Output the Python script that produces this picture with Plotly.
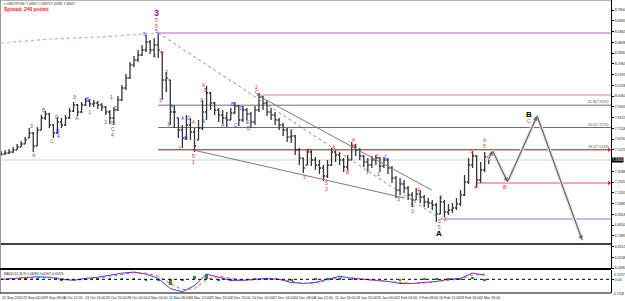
import plotly.graph_objects as go

# ---------------- data ----------------
# daily samples of the H4 chart; x = H4 bar number since 15 Sep 2020
bar_index = list(range(0, 727, 6))

close = [7.484, 7.493, 7.502, 7.520, 7.547, 7.574, 7.610, 7.673, 7.556, 7.700,
         7.808, 7.844, 7.745, 7.673, 7.772, 7.745, 7.808, 7.871, 7.925, 7.862,
         7.925, 7.961, 7.934, 7.943, 7.925, 7.907, 7.862, 7.808, 7.880, 7.970,
         8.078, 8.168, 8.285, 8.330, 8.375, 8.420, 8.492, 8.420, 8.465, 8.420,
         8.150, 8.168, 7.862, 7.862, 7.700, 7.628, 7.745, 7.682, 7.556, 7.718,
         7.862, 8.033, 7.943, 7.880, 7.835, 7.808, 7.790, 7.853, 7.916, 7.790,
         7.880, 7.844, 7.772, 7.880, 7.997, 7.943, 7.862, 7.835, 7.790, 7.745,
         7.700, 7.637, 7.646, 7.520, 7.448, 7.358, 7.502, 7.430, 7.385, 7.358,
         7.286, 7.385, 7.502, 7.475, 7.430, 7.367, 7.430, 7.556, 7.520, 7.466,
         7.412, 7.385, 7.430, 7.448, 7.376, 7.430, 7.358, 7.268, 7.160, 7.214,
         7.178, 7.115, 7.070, 7.124, 7.097, 7.052, 7.043, 7.025, 6.944, 7.052,
         6.962, 6.980, 6.998, 7.034, 7.115, 7.232, 7.385, 7.466, 7.250, 7.340,
         7.457, 7.430]

high = [7.511, 7.520, 7.529, 7.547, 7.574, 7.601, 7.637, 7.718, 7.682, 7.727,
        7.835, 7.871, 7.853, 7.754, 7.817, 7.808, 7.835, 7.898, 7.952, 7.934,
        7.952, 7.988, 7.979, 7.970, 7.961, 7.943, 7.916, 7.880, 7.907, 8.006,
        8.105, 8.204, 8.312, 8.366, 8.420, 8.465, 8.555, 8.510, 8.528, 8.573,
        8.402, 8.222, 8.150, 7.925, 7.808, 7.745, 7.835, 7.808, 7.718, 7.790,
        7.970, 8.096, 8.042, 7.952, 7.898, 7.880, 7.862, 7.898, 7.952, 7.925,
        7.916, 7.898, 7.862, 7.916, 8.033, 8.006, 7.970, 7.898, 7.862, 7.808,
        7.763, 7.718, 7.700, 7.655, 7.538, 7.448, 7.529, 7.520, 7.457, 7.430,
        7.385, 7.430, 7.538, 7.520, 7.502, 7.448, 7.475, 7.592, 7.574, 7.538,
        7.475, 7.448, 7.466, 7.475, 7.457, 7.457, 7.448, 7.376, 7.286, 7.268,
        7.250, 7.196, 7.142, 7.178, 7.160, 7.115, 7.088, 7.070, 7.043, 7.106,
        7.070, 7.034, 7.043, 7.088, 7.160, 7.295, 7.448, 7.511, 7.475, 7.412,
        7.502, 7.475]

low = [7.466, 7.475, 7.484, 7.493, 7.520, 7.547, 7.574, 7.628, 7.502, 7.556,
       7.700, 7.790, 7.718, 7.628, 7.664, 7.718, 7.736, 7.799, 7.862, 7.826,
       7.853, 7.916, 7.907, 7.907, 7.889, 7.871, 7.835, 7.754, 7.745, 7.871,
       7.961, 8.060, 8.159, 8.267, 8.312, 8.366, 8.402, 8.384, 8.357, 8.348,
       7.970, 8.042, 7.745, 7.718, 7.628, 7.538, 7.610, 7.610, 7.502, 7.610,
       7.700, 7.790, 7.880, 7.835, 7.772, 7.754, 7.727, 7.790, 7.844, 7.736,
       7.772, 7.790, 7.718, 7.745, 7.862, 7.880, 7.826, 7.790, 7.745, 7.700,
       7.646, 7.592, 7.583, 7.475, 7.385, 7.313, 7.385, 7.376, 7.340, 7.304,
       7.241, 7.268, 7.376, 7.412, 7.385, 7.322, 7.340, 7.430, 7.466, 7.430,
       7.367, 7.322, 7.358, 7.385, 7.322, 7.358, 7.304, 7.223, 7.088, 7.115,
       7.133, 7.070, 7.007, 7.070, 7.043, 7.007, 6.998, 6.980, 6.872, 6.944,
       6.917, 6.935, 6.953, 6.980, 7.016, 7.106, 7.214, 7.358, 7.178, 7.223,
       7.322, 7.394]

# MACD(12,26,9) sampled every 18 H4 bars
macd_bars = list(range(0, 721, 18))
macd_main = [0.0, 0.0133, 0.0266, 0.0333, 0.0266, 0.0, -0.0133, 0.0133, 0.0266, 0.0532,
             0.0798, 0.0931, 0.0665, 0.0133, -0.1197, -0.1596, -0.0798, 0.0665, 0.0266, -0.0133,
             -0.0133, 0.0, 0.0133, 0.0, -0.0399, -0.0532, -0.0399, 0.0, 0.0399, 0.0133,
             0.0, -0.0133, -0.0266, -0.0532, -0.0532, -0.0399, -0.0266, 0.0, 0.0133, 0.0798,
             0.0532]
macd_signal = [0.0, 0.0067, 0.020, 0.0266, 0.0266, 0.0133, -0.0133, 0.0, 0.0133, 0.0399,
               0.0665, 0.0865, 0.0798, 0.0399, -0.0532, -0.133, -0.1197, 0.0, 0.0399, 0.0133,
               -0.0133, -0.0067, 0.0067, 0.0067, -0.0266, -0.0532, -0.0466, -0.0133, 0.0266, 0.020,
               0.0, -0.0133, -0.0266, -0.0399, -0.0532, -0.0466, -0.0333, -0.0133, 0.0067, 0.0532,
               0.0665]

# right-hand price scale (the label under the current-price box is hidden, as in MT4)
price_ticks = [8.7800, 8.6833, 8.5865, 8.4898, 8.3930, 8.2963, 8.1995, 8.1028, 8.0060,
               7.9093, 7.8125, 7.7158, 7.6190, 7.5223, 7.3288, 7.2320, 7.1353,
               7.0385, 6.9418, 6.8450, 6.7483, 6.6515, 6.5548, 6.4580]
macd_max_text = "0.1197"
macd_min_text = "-0.1758"

date_labels = ["15 Sep 2020", "22 Sep 04:00", "29 Sep 08:00", "6 Oct 12:00", "13 Oct 16:00",
               "20 Oct 20:00", "28 Oct 00:00", "4 Nov 04:00", "11 Nov 08:00", "18 Nov 12:00",
               "25 Nov 16:00", "2 Dec 20:00", "10 Dec 00:00", "17 Dec 04:00", "24 Dec 08:00",
               "4 Jan 12:00", "11 Jan 16:00", "18 Jan 20:00", "26 Jan 00:00", "2 Feb 04:00",
               "9 Feb 08:00", "16 Feb 12:00", "23 Feb 16:00", "2 Mar 20:00"]
date_label_bars = [0, 31, 62, 93, 124, 155, 186, 217, 248, 279, 310, 341, 372, 403, 434,
                   465, 496, 527, 558, 589, 620, 651, 682, 713]

fib_ratios = [0.382, 0.500, 0.618]

# other horizontal levels: (price, start bar or None for full width, color, width)
level_lines = [
    (8.015, 381, "#f2a8a8", 1.5),
    (7.223, 707, "#ff4a4a", 1.0),
    (6.899, 653, "#a9a9e6", 1.5),
    (6.674, None, "#000000", 1.5),
]
# small red price markers on the scale
marker_prices = [7.522, 7.223]

pink_curve_bars = [0, 73, 147, 211, 234]
pink_curve_prices = [8.483, 8.519, 8.537, 8.564, 8.573]

# trend lines: (bar0, price0, bar1, price1, dash)
trend_lines = [
    (234, 8.573, 650, 6.917, "dot"),
    (381, 8.015, 641, 7.160, "solid"),
    (286, 7.520, 601, 7.088, "solid"),
]

proj_bars = [725, 732, 754, 798, 865]
proj_prices = [7.430, 7.511, 7.232, 7.826, 6.710]

B, R, G, P, K = "#3a3aff", "#ff2a2a", "#1a9a1a", "#8a1a8a", "#000000"
wave_labels = [
    (45, 7.736, "3", B), (49, 7.475, "A", G), (64, 7.880, "B", G), (76, 7.601, "C", G),
    (83, 7.817, "D", G), (85, 7.691, "B", B), (86, 7.646, "4", B), (110, 7.997, "3", B),
    (113, 7.808, "A", B), (129, 7.979, "B", B), (131, 7.862, "1", G), (156, 7.770, "3", G),
    (166, 7.760, "5", G), (166, 7.706, "C", B), (166, 7.652, "4", R), (165, 7.997, "1", B),
    (171, 7.898, "2", B), (214, 8.564, "5", B), (229, 8.366, "4", B), (231, 8.690, "5", R),
    (231, 8.636, "5", R), (231, 8.591, "5", B), (241, 8.393, "2", R), (238, 7.970, "1", R),
    (246, 8.069, "1", B), (247, 8.222, "2", B), (254, 7.916, "4", B), (250, 7.754, "3", B),
    (266, 7.538, "3", R), (271, 7.808, "A", B), (275, 7.628, "D", B), (280, 7.808, "C", B),
    (287, 7.772, "4", R), (286, 7.466, "5", R), (286, 7.412, "1", R), (299, 7.970, "3", B),
    (302, 7.781, "4", B), (302, 8.105, "A", R), (304, 8.060, "5", B), (330, 7.745, "A", B),
    (345, 7.934, "B", B), (350, 7.745, "C", B), (359, 7.898, "D", B), (368, 7.772, "E", B),
    (369, 7.718, "B", R), (381, 8.087, "2", R), (381, 8.042, "C", R), (433, 7.691, "2", R),
    (452, 7.277, "3", R), (458, 7.520, "4", R), (484, 7.223, "5", R), (484, 7.169, "3", R),
    (496, 7.547, "A", R), (516, 7.322, "B", R), (525, 7.610, "4", R), (525, 7.556, "C", R),
    (545, 7.322, "1", R), (561, 7.466, "2", R), (562, 7.304, "1", B), (573, 7.457, "2", B),
    (591, 7.079, "3", B), (594, 7.223, "4", B), (612, 7.025, "5", B), (612, 6.971, "3", R),
    (622, 7.160, "4", R), (652, 6.881, "5", R), (652, 6.827, "5", R), (656, 7.097, "1", R),
    (662, 6.899, "2", R), (701, 7.511, "3", R), (707, 7.187, "4", R), (720, 7.610, "A", R),
    (720, 7.556, "5", R), (750, 7.187, "B", R), (786, 7.781, "C", R),
]
big_labels = [(231, 8.753, "3", P, 9), (652, 6.773, "A", K, 8), (786, 7.844, "B", K, 8)]

# ---------------- layout constants ----------------
W, H = 625, 301
X_RANGE = [-1.5, 908]
Y_RANGE = [6.449, 8.870]
M_RANGE = [-0.1758, 0.1200]
XD = 611 / W
MAIN_DOM = [1 - 269 / H, 1.0]
IND_DOM = [1 - 293 / H, 1 - 270 / H]
FONT = "Liberation Sans, Arial, sans-serif"
SMALL = 3.6

# ---------------- derived ----------------
opens = [close[0]]
for i in range(1, len(close)):
    opens.append(min(max(close[i - 1], low[i]), high[i]))

fib_high = max(high)
fib_low = min(low)
fib_start = bar_index[high.index(fib_high)]
osma = [m - s for m, s in zip(macd_main, macd_signal)]

fig = go.Figure()

fig.add_trace(go.Scatter(x=pink_curve_bars, y=pink_curve_prices, mode="lines",
                         line=dict(color="#d79bd7", width=1.2, dash="dot"),
                         xaxis="x", yaxis="y", hoverinfo="skip"))

shapes = []
def hline(y, x0, color, width, dash="solid", x1=X_RANGE[1]):
    shapes.append(dict(type="line", xref="x", yref="y", x0=x0, x1=x1, y0=y, y1=y,
                       line=dict(color=color, width=width, dash=dash), layer="below"))

hline(fib_high, fib_start, "#e3aee3", 1.8)
for lv, x0, col, wd in level_lines:
    hline(lv, X_RANGE[0] if x0 is None else x0, col, wd)
hline(close[-1], X_RANGE[0], "#cfcfcf", 1.0)

fib_colors = ["#8b1a1a", "#6e6e6e", "#6e6e6e"]
fib_levels = [fib_low + r * (fib_high - fib_low) for r in fib_ratios]
for r, lv, col in zip(fib_ratios, fib_levels, fib_colors):
    hline(lv, fib_start, col, 1.0)

for b0, p0, b1, p1, dash in trend_lines:
    shapes.append(dict(type="line", xref="x", yref="y", x0=b0, y0=p0, x1=b1, y1=p1,
                       line=dict(color="#7a7a7a" if dash == "solid" else "#8a8a8a",
                                 width=1, dash=dash)))

fig.add_trace(go.Ohlc(x=bar_index, open=opens, high=high, low=low, close=close,
                      increasing=dict(line=dict(color="#353535", width=1.3)),
                      decreasing=dict(line=dict(color="#353535", width=1.3)),
                      tickwidth=0.4, xaxis="x", yaxis="y", hoverinfo="skip"))

fig.add_trace(go.Scatter(x=proj_bars, y=proj_prices, mode="lines",
                         line=dict(color="#e2e2e2", width=3.5), xaxis="x", yaxis="y",
                         hoverinfo="skip"))
fig.add_trace(go.Scatter(x=proj_bars, y=proj_prices, mode="lines",
                         line=dict(color="#8c8c8c", width=1), xaxis="x", yaxis="y",
                         hoverinfo="skip"))

fig.add_trace(go.Scatter(x=[X_RANGE[1] - 3] * len(marker_prices), y=marker_prices,
                         mode="markers", marker=dict(symbol="triangle-right", size=4,
                                                     color="#ff2020"),
                         xaxis="x", yaxis="y", hoverinfo="skip", cliponaxis=False))

fig.add_trace(go.Bar(x=macd_bars, y=osma, marker=dict(color="#14a014", line=dict(width=0)),
                     width=4, xaxis="x2", yaxis="y2", hoverinfo="skip"))
fig.add_trace(go.Scatter(x=macd_bars, y=macd_main, mode="lines",
                         line=dict(color="#3a3aff", width=1), xaxis="x2", yaxis="y2",
                         hoverinfo="skip"))
fig.add_trace(go.Scatter(x=macd_bars, y=macd_signal, mode="lines",
                         line=dict(color="#ff4040", width=1, dash="dot"), xaxis="x2",
                         yaxis="y2", hoverinfo="skip"))
shapes.append(dict(type="line", xref="x2", yref="y2", x0=X_RANGE[0], x1=X_RANGE[1], y0=0, y1=0,
                   line=dict(color="#000000", width=1, dash="dot")))

shapes += [
    dict(type="line", xref="paper", yref="paper", x0=0, x1=XD, y0=1, y1=1,
         line=dict(color="#9a9a9a", width=1.5)),
    dict(type="line", xref="paper", yref="paper", x0=0.0008, x1=0.0008, y0=IND_DOM[0], y1=1,
         line=dict(color="#9a9a9a", width=1)),
    dict(type="line", xref="paper", yref="paper", x0=0, x1=XD, y0=MAIN_DOM[0], y1=MAIN_DOM[0],
         line=dict(color="#000000", width=2)),
    dict(type="line", xref="paper", yref="paper", x0=0, x1=XD, y0=IND_DOM[0], y1=IND_DOM[0],
         line=dict(color="#000000", width=1)),
]

ann = []
for i in range(1, len(proj_bars)):
    ann.append(dict(x=proj_bars[i], y=proj_prices[i], ax=proj_bars[i - 1], ay=proj_prices[i - 1],
                    xref="x", yref="y", axref="x", ayref="y", text="", showarrow=True,
                    arrowhead=2, arrowsize=0.9, arrowwidth=1, arrowcolor="#666666",
                    standoff=0))

for bx, py, t, c in wave_labels:
    ann.append(dict(x=bx, y=py, xref="x", yref="y", text=t, showarrow=False, borderpad=0,
                    font=dict(family=FONT, size=5, color=c)))
for bx, py, t, c, s in big_labels:
    ann.append(dict(x=bx, y=py, xref="x", yref="y", text="<b>" + t + "</b>", showarrow=False,
                    borderpad=0, font=dict(family=FONT, size=s, color=c)))

for r, lv in zip(fib_ratios, fib_levels):
    ann.append(dict(x=609 / W, y=lv, xref="paper", yref="y", xanchor="right", yanchor="bottom",
                    text="%.1f(%.4f)" % (r * 100, lv), showarrow=False, borderpad=0,
                    font=dict(family=FONT, size=SMALL, color="#555555")))

for t, bx in zip(date_labels, date_label_bars):
    ann.append(dict(x=bx, y=0, xref="x", yref="paper", xanchor="left", yanchor="bottom",
                    text=t, showarrow=False, borderpad=0,
                    font=dict(family=FONT, size=SMALL, color="#222222")))

ann.append(dict(x=XD, y=close[-1], xref="paper", yref="y", xanchor="left", yanchor="middle",
                text="%.4f" % close[-1], showarrow=False, bgcolor="#000000", borderpad=0,
                font=dict(family=FONT, size=SMALL, color="#ffffff")))
ann.append(dict(x=XD + 0.003, y=IND_DOM[1] - 1.5 / H, xref="paper", yref="paper",
                xanchor="left", yanchor="top", text=macd_max_text, showarrow=False, borderpad=0,
                font=dict(family=FONT, size=SMALL, color="#222222")))
ann.append(dict(x=XD + 0.002, y=IND_DOM[0] - 0.5 / H, xref="paper", yref="paper",
                xanchor="left", yanchor="middle", text=macd_min_text, showarrow=False,
                borderpad=0, font=dict(family=FONT, size=3.2, color="#222222")))
ann.append(dict(x=0.004, y=1 - 1 / H, xref="paper", yref="paper", xanchor="left", yanchor="top",
                text="▾ USDTRY,H4  7.43317 7.43873 7.42981 7.43057", showarrow=False,
                borderpad=0, font=dict(family=FONT, size=3.2, color="#222222")))
ann.append(dict(x=0.004, y=1 - 4.5 / H, xref="paper", yref="paper", xanchor="left",
                yanchor="top", text="<b>Spread: 240 points</b>", showarrow=False, borderpad=0,
                font=dict(family=FONT, size=5, color="#ff2020")))
ann.append(dict(x=0.004, y=IND_DOM[1] - 0.5 / H, xref="paper", yref="paper", xanchor="left",
                yanchor="top", text="MACD(12,26,9) 0.04683 0.04307 0.00376", showarrow=False,
                borderpad=0, font=dict(family=FONT, size=3.2, color="#222222")))

fig.update_layout(
    width=W, height=H, margin=dict(l=0, r=0, t=0, b=0),
    paper_bgcolor="#ffffff", plot_bgcolor="#ffffff", showlegend=False,
    font=dict(family=FONT, size=SMALL, color="#222222"),
    xaxis=dict(domain=[0, XD], range=X_RANGE, anchor="y", showticklabels=False,
               showgrid=False, zeroline=False, showline=False, rangeslider=dict(visible=False),
               fixedrange=True),
    xaxis2=dict(domain=[0, XD], range=X_RANGE, anchor="y2", matches="x", showticklabels=False,
                showgrid=False, zeroline=False, showline=False),
    yaxis=dict(domain=MAIN_DOM, range=Y_RANGE, anchor="x", side="right",
               tickvals=price_ticks, ticktext=["%.4f" % v for v in price_ticks],
               tickfont=dict(size=SMALL, color="#222222"), ticks="outside", ticklen=2,
               tickcolor="#000000", showgrid=False, zeroline=False, showline=True,
               linecolor="#000000", linewidth=1, automargin=False),
    yaxis2=dict(domain=IND_DOM, range=M_RANGE, anchor="x2", side="right",
                tickvals=[0.0], ticktext=["0.00"],
                tickfont=dict(size=SMALL, color="#222222"), ticks="outside", ticklen=2,
                tickcolor="#000000", showgrid=False, zeroline=False, showline=True,
                linecolor="#000000", linewidth=1, automargin=False),
    shapes=shapes, annotations=ann, bargap=0,
)

fig.write_html("out.html")
